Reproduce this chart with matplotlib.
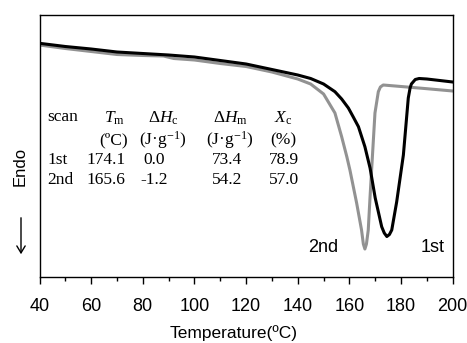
import matplotlib
matplotlib.use("Agg")
import matplotlib.pyplot as plt
from matplotlib.ticker import MultipleLocator

# Temperature (ºC) and heat flow (arbitrary units, endo down)
temp_1st = [40, 50, 60, 70, 80, 90, 100, 110, 120, 130, 140, 145, 150, 154.4, 157,
            159.6, 161.5, 163.5, 166, 168, 170, 172.5, 173.5, 174.5, 175.5, 176.4,
            178.3, 180.9, 182.8, 183.5, 184, 185.5, 187, 190, 195, 200]
heat_1st = [233.7, 230.5, 228, 225, 223.5, 222, 220, 216.5, 213, 207.5, 202, 198.5,
            193, 185.3, 178, 169, 160, 150.3, 130.3, 109, 79, 50.3, 44, 40.5, 42.5, 47,
            75, 122, 179, 189, 193, 197.5, 198.5, 198, 196.5, 195]

temp_2nd = [40, 50, 60, 70, 80, 88, 92, 100, 110, 120, 130, 140, 145, 150, 154.4, 157,
            159, 160.2, 162.8, 164.7, 165.4, 166, 166.6, 167.3, 168, 168.6, 169.9,
            171.2, 172, 173.1, 180, 190, 200]
heat_2nd = [232, 228.5, 225.5, 222.5, 221.5, 221, 218.5, 217, 213.5, 210.5, 205, 198, 193,
            183, 164, 140.3, 120.3, 107, 74, 47, 33, 28, 33, 47, 80.3, 107, 164, 185.3,
            190, 192, 190.5, 188.3, 186]

xticks = [40, 60, 80, 100, 120, 140, 160, 180, 200]

table_header = ["scan", r"$\mathit{T}_{\mathrm{m}}$", r"$\mathit{ΔH}_{\mathrm{c}}$",
                r"$\mathit{ΔH}_{\mathrm{m}}$", r"$\mathit{X}_{\mathrm{c}}$"]
table_units = ["", "(ºC)", r"(J·g$^{\mathrm{-1}}$)", r"(J·g$^{\mathrm{-1}}$)", "(%)"]
table_rows = [["1st", "174.1", "0.0", "73.4", "78.9"],
              ["2nd", "165.6", "-1.2", "54.2", "57.0"]]

plt.rcParams['mathtext.fontset'] = 'custom'
plt.rcParams['mathtext.rm'] = 'Liberation Serif'
plt.rcParams['mathtext.it'] = 'Liberation Serif:italic'

W, H = 467, 343
fig = plt.figure(figsize=(W / 100, H / 100), dpi=100)
ax = fig.add_axes([39.5 / W, 1 - 277 / H, (452.7 - 39.5) / W, (277 - 15) / H])

ax.plot(temp_2nd, heat_2nd, color='#929292', lw=2.2, solid_joinstyle='round')
ax.plot(temp_1st, heat_1st, color='black', lw=2.2, solid_joinstyle='round')

ax.set_xlim(40, 200)
ax.set_ylim(0, 262)
ax.set_yticks([])
ax.set_xticks(xticks)
ax.xaxis.set_minor_locator(MultipleLocator(10))
ax.tick_params(axis='x', which='major', direction='out', length=5, width=1,
               labelsize=13, pad=10)
ax.tick_params(axis='x', which='minor', direction='out', length=3, width=1)
for lab in ax.get_xticklabels():
    lab.set_fontfamily('Liberation Sans')
for s in ax.spines.values():
    s.set_linewidth(1.0)
    s.set_color('black')

# table text (pixel positions converted to figure fraction)
def ft(px, py, s, ha='left', **kw):
    fig.text(px / W, 1 - py / H, s, ha=ha, va='center', fontsize=12.5,
             family='Liberation Serif', **kw)

col_centers = [None, 114, 163, 230, 283]
ft(47, 117, table_header[0])
for i in range(1, 5):
    ft(col_centers[i], 118, table_header[i], ha='center')
    ft(col_centers[i], 140, table_units[i], ha='center')
row_y = [160, 180]
num_left = [47, 86, 143, 212, 269]
for r, row in enumerate(table_rows):
    for c, val in enumerate(row):
        x = num_left[c]
        if c == 2 and val.startswith('-'):
            x -= 3
        ft(x, row_y[r], val)

fig.text(323 / W, 1 - 247 / H, "2nd", ha='center', va='center', fontsize=13,
         family='Liberation Sans')
fig.text(433 / W, 1 - 247 / H, "1st", ha='center', va='center', fontsize=13,
         family='Liberation Sans')

fig.text(20 / W, 1 - 166 / H, "Endo", rotation=90, ha='center', va='center',
         fontsize=12, family='Liberation Sans')
fig.add_artist(matplotlib.patches.FancyArrowPatch(
    (21 / W, 1 - 215 / H), (21 / W, 1 - 257 / H), transform=fig.transFigure,
    arrowstyle='->,head_length=5,head_width=3', lw=1.0, color='black',
    mutation_scale=1))

fig.text(234 / W, 1 - 333 / H, "Temperature(ºC)", ha='center', va='center',
         fontsize=12.5, family='Liberation Sans')

fig.savefig("out.png", dpi=100)
